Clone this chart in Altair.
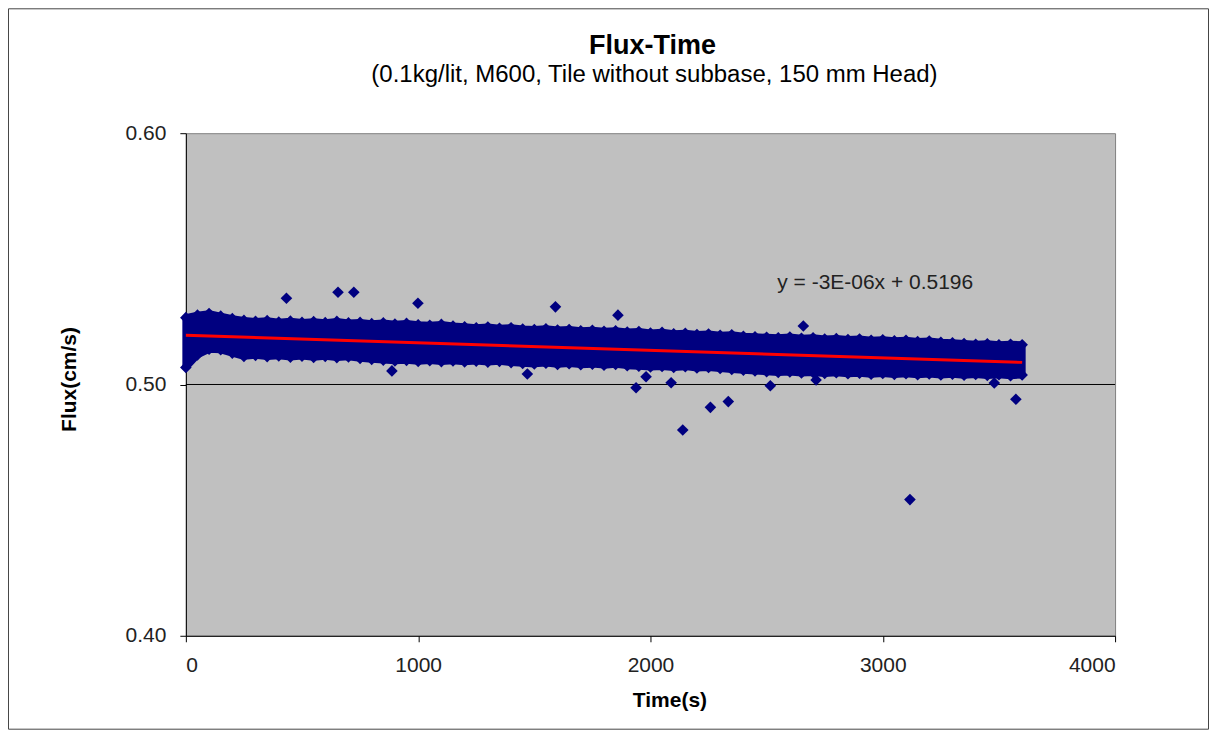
import altair as alt
import pandas as pd

# ---- data ----
EDGE_T = list(range(0, 3601, 50))
TOP_V = [0.5266, 0.5276, 0.5282, 0.5272, 0.5262, 0.5255, 0.5251, 0.5254, 0.5248, 0.5252,
         0.5247, 0.5250, 0.5246, 0.5251, 0.5245, 0.5247, 0.5242, 0.5245, 0.5240, 0.5243,
         0.5238, 0.5236, 0.5239, 0.5233, 0.5230, 0.5226, 0.5229, 0.5224, 0.5226, 0.5221,
         0.5219, 0.5222, 0.5217, 0.5219, 0.5214, 0.5216, 0.5212, 0.5214, 0.5209, 0.5211,
         0.5205, 0.5208, 0.5202, 0.5204, 0.5199, 0.5201, 0.5196, 0.5198, 0.5192, 0.5190,
         0.5188, 0.5186, 0.5189, 0.5184, 0.5186, 0.5181, 0.5183, 0.5179, 0.5181, 0.5176,
         0.5178, 0.5174, 0.5176, 0.5171, 0.5173, 0.5168, 0.5166, 0.5163, 0.5160, 0.5162,
         0.5158, 0.5160, 0.5158]
BOT_V = [0.5068, 0.5118, 0.5140, 0.5138, 0.5125, 0.5112, 0.5116, 0.5111, 0.5114, 0.5109,
         0.5113, 0.5108, 0.5112, 0.5107, 0.5110, 0.5104, 0.5100, 0.5097, 0.5094, 0.5096,
         0.5092, 0.5095, 0.5091, 0.5094, 0.5090, 0.5093, 0.5089, 0.5092, 0.5087, 0.5084,
         0.5082, 0.5085, 0.5080, 0.5083, 0.5079, 0.5081, 0.5077, 0.5080, 0.5075, 0.5073,
         0.5070, 0.5072, 0.5068, 0.5071, 0.5066, 0.5068, 0.5064, 0.5060, 0.5057, 0.5054,
         0.5051, 0.5048, 0.5050, 0.5046, 0.5048, 0.5044, 0.5047, 0.5043, 0.5045, 0.5041,
         0.5044, 0.5040, 0.5043, 0.5039, 0.5042, 0.5038, 0.5041, 0.5037, 0.5040, 0.5036,
         0.5039, 0.5035, 0.5038]
OUT_T = [433, 655, 723, 999, 887, 1470, 1591, 1860, 1938, 1981,
         2089, 2139, 2258, 2335, 2516, 2658, 2713, 3117, 3573, 3480]
OUT_V = [0.5343, 0.5367, 0.5367, 0.5323, 0.5054, 0.5042, 0.5309, 0.5276, 0.4987, 0.5031,
         0.5007, 0.4819, 0.4909, 0.4932, 0.4995, 0.5233, 0.5018, 0.4542, 0.4941, 0.5006]
TREND_T = [0, 3600]
TREND_V = [0.5196, 0.5088]
X_TICKS = [0, 1000, 2000, 3000, 4000]
Y_TICKS = [0.40, 0.50, 0.60]
GRID_V = [0.50]
EQ_T = [2546]
EQ_V = [0.5404]
EQ_TEXT = ["y = -3E-06x + 0.5196"]
TITLE_TEXT = ["Flux-Time"]
SUBTITLE_TEXT = ["(0.1kg/lit, M600, Tile without subbase, 150 mm Head)"]

FONT = "Liberation Sans"
NAVY = "#000080"

band_df = pd.DataFrame({"t": EDGE_T, "v": TOP_V, "v2": BOT_V})
edge_df = pd.DataFrame({"t": EDGE_T + EDGE_T, "v": TOP_V + BOT_V})
out_df = pd.DataFrame({"t": OUT_T, "v": OUT_V})
trend_df = pd.DataFrame({"t": TREND_T, "v": TREND_V})
grid_df = pd.DataFrame({"v": GRID_V})
eq_df = pd.DataFrame({"t": EQ_T, "v": EQ_V, "label": EQ_TEXT})

xs = alt.Scale(domain=[0, 4000], nice=False, zero=False)
ys = alt.Scale(domain=[0.4, 0.6], nice=False, zero=False)
xax = alt.Axis(values=X_TICKS, format="d", title="Time(s)", titleX=484, titleY=71,
               titleBaseline="alphabetic", labelPadding=13)
yax = alt.Axis(values=Y_TICKS, format=".2f", title="Flux(cm/s)", titleX=-110, titleY=246,
               titleBaseline="alphabetic", labelPadding=14)

X = alt.X("t:Q", scale=xs, axis=xax)
Y = alt.Y("v:Q", scale=ys, axis=yax)

grid = alt.Chart(grid_df).mark_rule(color="black", strokeWidth=1).encode(y=Y)
band = alt.Chart(band_df).mark_area(
    color=NAVY, stroke=NAVY, strokeWidth=7, strokeJoin="round", opacity=1, clip=False
).encode(x=X, y=Y, y2="v2:Q")
edges = alt.Chart(edge_df).mark_point(shape="diamond", filled=True, size=135, color=NAVY,
                                       opacity=1, clip=False).encode(x=X, y=Y)
outl = alt.Chart(out_df).mark_point(shape="diamond", filled=True, size=135, color=NAVY,
                                     opacity=1).encode(x=X, y=Y)
trend = alt.Chart(trend_df).mark_line(color="#FF0000", strokeWidth=3).encode(x=X, y=Y)
eq = alt.Chart(eq_df).mark_text(align="left", baseline="middle", font=FONT, fontSize=21,
                                color="#222222").encode(x=X, y=Y, text="label:N")
title = alt.Chart(pd.DataFrame({"label": TITLE_TEXT})).mark_text(
    align="center", baseline="alphabetic", font=FONT, fontSize=27, fontWeight="bold",
    color="black", clip=False
).encode(x=alt.value(467), y=alt.value(-79), text="label:N")
subtitle = alt.Chart(pd.DataFrame({"label": SUBTITLE_TEXT})).mark_text(
    align="center", baseline="alphabetic", font=FONT, fontSize=24,
    color="black", clip=False
).encode(x=alt.value(469), y=alt.value(-51), text="label:N")
frame = alt.Chart(pd.DataFrame({"a": [0]})).mark_rect(
    filled=False, stroke="#444444", strokeWidth=1, clip=False
).encode(x=alt.value(-177.5), x2=alt.value(1023.5), y=alt.value(-124.5), y2=alt.value(596.5))

chart = alt.layer(grid, band, edges, outl, trend, eq, title, subtitle, frame).properties(
    width=930,
    height=503,
    padding={"left": 178, "top": 125, "right": 94, "bottom": 94},
    autosize=alt.AutoSizeParams(type="none"),
).configure(background="white").configure_view(
    fill="#C0C0C0", stroke="#808080", strokeWidth=1
).configure_axis(
    domainColor="black", tickColor="black", domainWidth=1, tickWidth=1, tickSize=6,
    labelColor="#222222", labelFont=FONT, labelFontSize=21,
    titleColor="black", titleFont=FONT, titleFontSize=21, titleFontWeight="bold",
    grid=False,
)

chart.save("out.html", embed_options={"renderer": "svg", "actions": False})
